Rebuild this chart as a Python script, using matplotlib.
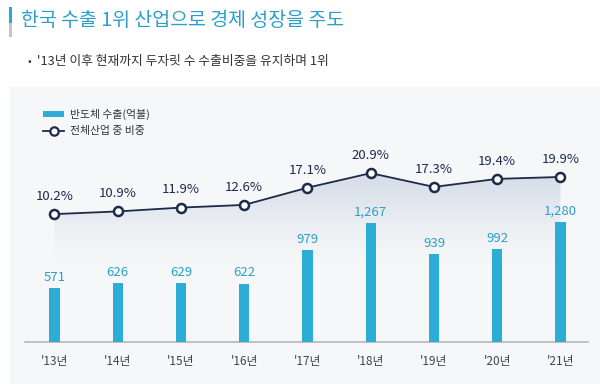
import numpy as np
import matplotlib
matplotlib.use("Agg")
import matplotlib.pyplot as plt
from matplotlib.patches import Rectangle
from matplotlib.lines import Line2D
from matplotlib.colors import to_rgb

plt.rcParams["font.family"] = ["Noto Sans CJK KR", "DejaVu Sans"]

years = ["'13년", "'14년", "'15년", "'16년", "'17년", "'18년", "'19년", "'20년", "'21년"]
exports = [571, 626, 629, 622, 979, 1267, 939, 992, 1280]
share = [10.2, 10.9, 11.9, 12.6, 17.1, 20.9, 17.3, 19.4, 19.9]
export_labels = ["571", "626", "629", "622", "979", "1,267", "939", "992", "1,280"]

title = "한국 수출 1위 산업으로 경제 성장을 주도"
subtitle = "'13년 이후 현재까지 두자릿 수 수출비중을 유지하며 1위"
bar_name = "반도체 수출(억불)"
line_name = "전체산업 중 비중"

BAR = "#2badd6"
BAR_TXT = "#2a9fc8"
NAVY = "#1c2b4a"
PANEL = "#f6f7f8"

W, H = 600, 384
fig = plt.figure(figsize=(6, 3.84), dpi=100, facecolor="white")

# light panel behind the chart
fig.patches.append(Rectangle((10 / W, 0), 590 / W, (H - 87) / H, transform=fig.transFigure,
                             facecolor=PANEL, edgecolor="none", zorder=-10))
# title accent bar
fig.patches.append(Rectangle((9 / W, (H - 23) / H), 3 / W, 16 / H, transform=fig.transFigure,
                             facecolor="#2ba6d2", edgecolor="none"))
fig.patches.append(Rectangle((9 / W, (H - 37) / H), 3 / W, 14 / H, transform=fig.transFigure,
                             facecolor="#c4c6c8", edgecolor="none"))

fig.text(21 / W, 1 - 21 / H, title, fontsize=14, color="#2b9fc9", va="center", ha="left")
fig.text(27 / W, 1 - 62 / H, "•", fontsize=8, color="#333333", va="center", ha="left")
fig.text(37 / W, 1 - 62 / H, subtitle, fontsize=9.2, color="#333333", va="center", ha="left")

# axes: baseline at y=342px, top at 100px
left, right, bottom, top = 25, 588, 342, 100
ax = fig.add_axes([left / W, (H - bottom) / H, (right - left) / W, (bottom - top) / H])
ax2 = ax.twinx()
ax.set_zorder(ax2.get_zorder() + 1)
ax.patch.set_visible(False)
ax2.patch.set_visible(False)

x = np.arange(len(years))
ax.bar(x, exports, width=0.16, color=BAR, zorder=3)
for xi, v, s in zip(x, exports, export_labels):
    ax.annotate(s, (xi, v), xytext=(0, 3), textcoords="offset points",
                ha="center", va="bottom", fontsize=9.5, color=BAR_TXT)

ax.set_xlim(-0.466, 8.435)
ax.set_ylim(0, 2574)

# gradient under the line
c = to_rgb("#c9d3e3")
grad = np.zeros((100, 1, 4))
grad[:, 0, :3] = c
grad[:, 0, 3] = np.linspace(0.0, 0.8, 100) ** 1.3
poly = ax2.fill_between(x, share, -3, color="none")
img = ax2.imshow(grad, extent=[0, 8, -3, 21], origin="lower", aspect="auto", zorder=1)
img.set_clip_path(poly.get_paths()[0], transform=ax2.transData)
ax2.set_xlim(-0.466, 8.435)
ax2.set_ylim(-23.2, 40)

ax2.plot(x, share, color=NAVY, lw=1.3, marker="o", ms=6.5, mfc="white", mec=NAVY, mew=1.8, zorder=4)
for xi, v in zip(x, share):
    ax2.annotate(f"{v}%", (xi, v), xytext=(0, 8), textcoords="offset points",
                 ha="center", va="bottom", fontsize=9.5, color=NAVY)

for a in (ax, ax2):
    for sp in a.spines.values():
        sp.set_visible(False)
    a.set_yticks([])
ax.spines["bottom"].set_visible(True)
ax.spines["bottom"].set_color("#b5b7ba")
ax.spines["bottom"].set_linewidth(1.2)
ax.set_xticks(x, years)
ax.tick_params(axis="x", length=0, pad=9, labelsize=8.5, labelcolor="#444444")

# legend
handles = [Rectangle((0, 0), 1, 1, facecolor=BAR, edgecolor="none"),
           Line2D([], [], color=NAVY, lw=1.3, marker="o", ms=6, mfc="white", mec=NAVY, mew=1.6)]
leg = fig.legend(handles, [bar_name, line_name], loc="upper left",
                 bbox_to_anchor=(33 / W, 1 - 99 / H), frameon=False, fontsize=7.8,
                 handlelength=2.0, handleheight=0.4, handletextpad=0.5, labelspacing=0.55)
for t in leg.get_texts():
    t.set_color("#333333")

fig.savefig("out.png", dpi=100, facecolor="white")
